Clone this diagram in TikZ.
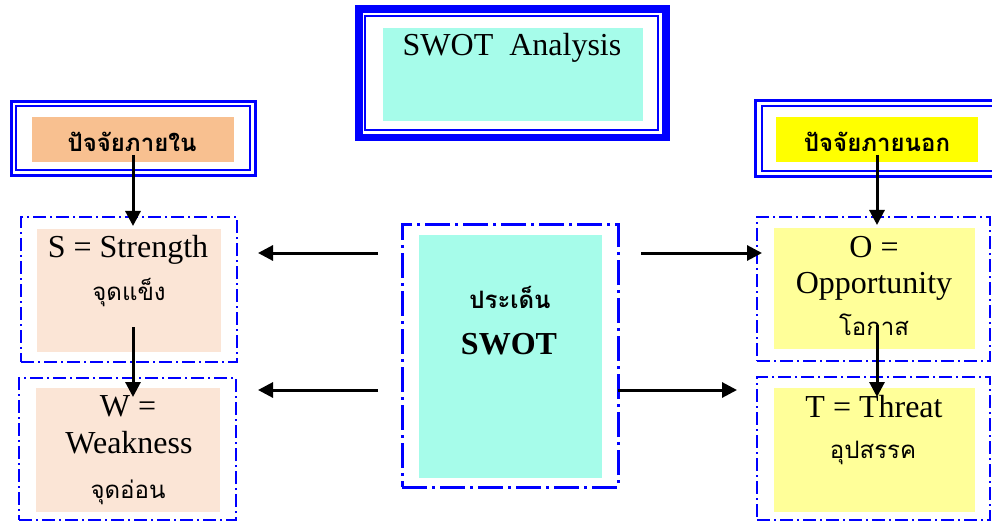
\documentclass[tikz,border=0pt]{standalone}
\usepackage{fontspec}
\setmainfont{Liberation Serif}
\newfontfamily\thai[Script=Thai]{Loma}
\usetikzlibrary{arrows.meta,calc}
\definecolor{bl}{RGB}{0,0,255}
\definecolor{aqua}{RGB}{166,252,234}
\definecolor{peach}{RGB}{251,229,214}
\definecolor{orangeh}{RGB}{248,192,144}
\definecolor{yel}{RGB}{255,255,0}
\definecolor{lyel}{RGB}{255,255,153}
\tikzset{
  box/.style 2 args={rectangle, inner sep=0pt, outer sep=0pt, minimum width=#1, minimum height=#2},
  dd/.style={draw=bl, line width=2pt, dash pattern=on 13pt off 4pt on 2pt off 4pt},
  ddbig/.style={draw=bl, line width=3pt, dash pattern=on 25pt off 5pt on 3pt off 5pt},
  txt/.style={anchor=base, inner sep=0pt, font=\fontsize{32}{38}\selectfont},
  thtxt/.style={anchor=base, inner sep=0pt, font=\thai\fontsize{24}{28}\selectfont},
  thbold/.style={anchor=base, inner sep=0pt, font=\thai\bfseries\fontsize{24}{28}\selectfont},
  arr/.style={line width=3pt, -{Triangle[length=15pt,width=15pt]}},
}
\begin{document}
\begin{tikzpicture}[x=1pt,y=-1pt]
\clip (0,0) rectangle (992,521);
\fill[white] (0,0) rectangle (992,521);
% top title frame
\node[box={307pt}{128.5pt}, draw=bl, line width=7.7pt] (tOut) at (512.5,73.25) {};
\node[box={292.5pt}{114.5pt}, draw=bl, line width=2pt] (tIn) at (511.25,73.25) {};
\node[box={260pt}{93pt}, fill=aqua] (tF) at (513,74.5) {};
\node[txt] (tT) at (512,56) {SWOT\ \ Analysis};
% left header
\node[box={244.7pt}{74.5pt}, draw=bl, line width=3pt] (hLo) at (133.35,138.75) {};
\node[box={233.5pt}{64.3pt}, draw=bl, line width=2pt] (hLi) at (132.75,138.15) {};
\node[box={202pt}{45pt}, fill=orangeh] (hLf) at (133,139.5) {};
\node[thbold] (hLt) at (132,152) {ปัจจัยภายใน};
% right header
\node[box={245pt}{76pt}, draw=bl, line width=3pt] (hRo) at (877.5,138.7) {};
\node[box={238pt}{65pt}, draw=bl, line width=2pt] (hRi) at (881,138.5) {};
\node[box={202pt}{45pt}, fill=yel] (hRf) at (877,139.5) {};
\node[thbold] (hRt) at (877,152) {ปัจจัยภายนอก};
% S box
\node[box={216pt}{145pt}, dd] (Sb) at (129,289.5) {};
\node[box={184pt}{123pt}, fill=peach] (Sf) at (129,290.5) {};
\node[txt] (St1) at (128,257) {S = Strength};
\node[thtxt] (St2) at (129,300) {จุดแข็ง};
% W box
\node[box={217pt}{142pt}, dd] (Wb) at (127.5,449) {};
\node[box={184pt}{124pt}, fill=peach] (Wf) at (128,450) {};
\node[txt] (Wt1) at (128,416) {W =};
\node[txt] (Wt2) at (129,453) {Weakness};
\node[thtxt] (Wt3) at (128,498) {จุดอ่อน};
% O box
\node[box={233pt}{144pt}, dd] (Ob) at (873.5,289) {};
\node[box={201pt}{121pt}, fill=lyel] (Of) at (874.5,288.5) {};
\node[txt] (Ot1) at (874,257) {O =};
\node[txt] (Ot2) at (874,293) {Opportunity};
\node[thtxt] (Ot3) at (874,335) {โอกาส};
% T box
\node[box={233pt}{143pt}, dd] (Tb) at (873.5,448.5) {};
\node[box={201pt}{124pt}, fill=lyel] (Tf) at (874.5,450) {};
\node[txt] (Tt1) at (874,417) {T = Threat};
\node[thtxt] (Tt2) at (873,458) {อุปสรรค};
% centre box
\node[box={216pt}{262pt}, ddbig] (Cb) at (510,356) {};
\node[box={183pt}{243pt}, fill=aqua] (Cf) at (510.5,356.5) {};
\node[thbold] (Ct1) at (510,308) {ประเด็น};
\node[txt, font=\bfseries\fontsize{32}{38}\selectfont] (Ct2) at (509,354) {SWOT};
% arrows
\draw[arr] ($(hLf.south)+(0,-7)$) -- ($(Sb.north -| hLf.south)+(0,9)$);
\draw[arr] ($(Sf.south -| hLf.south)+(0,-25)$) -- ($(Wb.north -| hLf.south)+(0,19)$);
\draw[arr] ($(hRf.south)+(0,-7)$) -- ($(Ob.north -| hRf.south)+(0,8)$);
\draw[arr] ($(Of.south -| hRf.south)+(0,-24)$) -- ($(Tb.north -| hRf.south)+(0,20)$);
\draw[arr] ($(Cb.north west)+(-24,28)$) -- ($(Sb.north east)+(21,36)$);
\draw[arr] ($(Cb.north west)+(-24,165)$) -- ($(Wb.north east)+(22,12)$);
\draw[arr] ($(Cb.north east)+(23,28)$) -- ($(Ob.north west)+(5,36)$);
\draw[arr] ($(Cb.north east)+(0,165)$) -- ($(Tb.north west)+(-20,13)$);
\end{tikzpicture}
\end{document}
